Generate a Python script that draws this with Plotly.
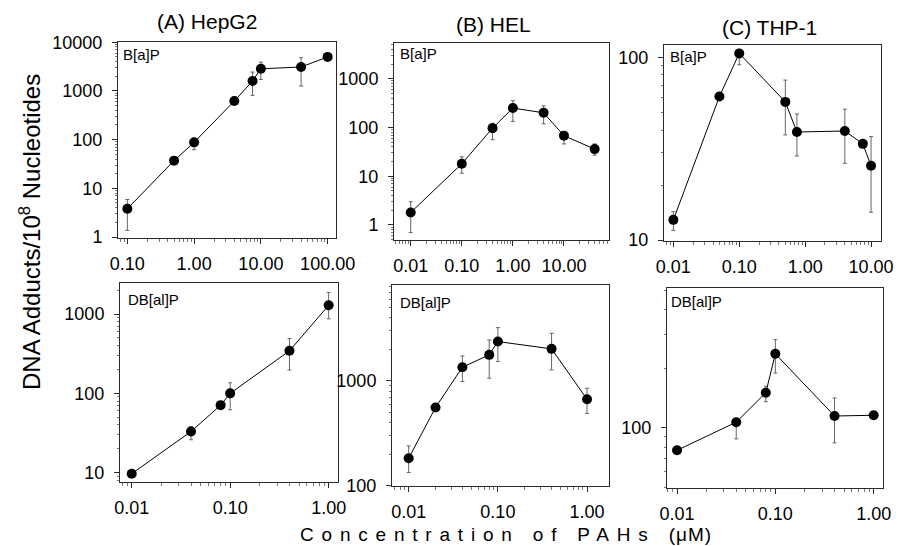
import plotly.graph_objects as go

# ---------------- data (concentration in uM, adducts / 10^8 nucleotides) ----------------
# (A) HepG2
hepg2_bap_conc = [0.1, 0.5, 1, 4, 7.5, 10, 40, 100]
hepg2_bap_adducts = [3.8, 37, 88, 620, 1600, 2850, 3100, 5000]
hepg2_bap_upper = [5.9, 37, 100, 620, 2440, 3900, 4800, 5000]
hepg2_bap_lower = [1.37, 37, 62, 620, 810, 1720, 1260, 5000]

hepg2_dbalp_conc = [0.01, 0.04, 0.08, 0.1, 0.4, 1.0]
hepg2_dbalp_adducts = [9.7, 33, 71, 100, 344, 1290]
hepg2_dbalp_upper = [9.7, 38, 71, 136, 490, 1875]
hepg2_dbalp_lower = [9.7, 26, 71, 62, 197, 870]

# (B) HEL
hel_bap_conc = [0.01, 0.1, 0.4, 1, 4, 10, 40]
hel_bap_adducts = [1.8, 18, 97, 250, 200, 68, 36]
hel_bap_upper = [3.0, 25, 122, 354, 278, 83, 46]
hel_bap_lower = [0.7, 11.5, 56, 133, 119, 46, 27]

hel_dbalp_conc = [0.01, 0.02, 0.04, 0.08, 0.1, 0.4, 1.0]
hel_dbalp_adducts = [183, 557, 1350, 1770, 2370, 2020, 668]
hel_dbalp_upper = [240, 557, 1730, 2455, 3220, 2845, 851]
hel_dbalp_lower = [134, 557, 986, 1060, 1528, 1273, 490]

# (C) THP-1
thp1_bap_conc = [0.01, 0.05, 0.1, 0.5, 0.75, 4, 7.5, 10]
thp1_bap_adducts = [12.9, 61, 105, 57, 39, 39.5, 33.6, 25.5]
thp1_bap_upper = [14.3, 61, 108, 75, 49, 52, 33.6, 36.8]
thp1_bap_lower = [11.3, 61, 91, 37.6, 28.8, 26.3, 33.6, 14.2]

thp1_dbalp_conc = [0.01, 0.04, 0.08, 0.1, 0.4, 1.0]
thp1_dbalp_adducts = [77, 107, 151, 238, 115, 116]
thp1_dbalp_upper = [77, 110, 163, 281, 142, 116]
thp1_dbalp_lower = [77, 88, 136, 190, 84, 116]

# tick labels
ticks_x_hepg2_bap = ["0.10", "1.00", "10.00", "100.00"]
ticks_x_bap_b = ["0.01", "0.10", "1.00", "10.00"]
ticks_x_dbalp = ["0.01", "0.10", "1.00"]
ticks_y_hepg2_bap = ["1", "10", "100", "1000", "10000"]
ticks_y_hel_bap = ["1", "10", "100", "1000"]
ticks_y_thp1_bap = ["10", "100"]
ticks_y_hepg2_dbalp = ["10", "100", "1000"]
ticks_y_hel_dbalp = ["100", "1000"]
ticks_y_thp1_dbalp = ["100"]

panel_titles = ["(A) HepG2", "(B) HEL", "(C) THP-1"]
row_labels = ["B[a]P", "DB[al]P"]

# ---------------- layout helpers ----------------
W, H = 900, 546
FONT = "Liberation Sans, Arial, sans-serif"


def dx(px):
    return px / W


def dy(py):
    return 1 - py / H


def minor_vals(rng):
    lo, hi = int(rng[0]) - 2, int(rng[1]) + 2
    return [k * 10.0 ** d for d in range(lo, hi) for k in range(2, 10)]


panels = [
    # (conc, adducts, upper, lower, box(l,r,t,b), xrange, yrange, xticktext, yticktext)
    (hepg2_bap_conc, hepg2_bap_adducts, hepg2_bap_upper, hepg2_bap_lower,
     (118, 336, 42, 238), [-1.14, 2.125], [-0.02, 4.005], ticks_x_hepg2_bap, ticks_y_hepg2_bap),
    (hel_bap_conc, hel_bap_adducts, hel_bap_upper, hel_bap_lower,
     (394, 609, 43, 240), [-2.327, 1.882], [-0.308, 3.733], ticks_x_bap_b, ticks_y_hel_bap),
    (thp1_bap_conc, thp1_bap_adducts, thp1_bap_upper, thp1_bap_lower,
     (664, 881, 45, 241), [-2.142, 1.151], [0.995, 2.067], ticks_x_bap_b, ticks_y_thp1_bap),
    (hepg2_dbalp_conc, hepg2_dbalp_adducts, hepg2_dbalp_upper, hepg2_dbalp_lower,
     (120, 338, 283, 482), [-2.119, 0.095], [0.882, 3.392], ticks_x_dbalp, ticks_y_hepg2_dbalp),
    (hel_dbalp_conc, hel_dbalp_adducts, hel_dbalp_upper, hel_dbalp_lower,
     (392, 609, 285, 486), [-2.187, 0.246], [1.998, 3.914], ticks_x_dbalp, ticks_y_hel_dbalp),
    (thp1_dbalp_conc, thp1_dbalp_adducts, thp1_dbalp_upper, thp1_dbalp_lower,
     (667, 883, 288, 488), [-2.102, 0.095], [1.695, 2.711], ticks_x_dbalp, ticks_y_thp1_dbalp),
]

fig = go.Figure()
layout = dict(
    width=W, height=H,
    margin=dict(l=0, r=0, t=0, b=0, pad=0, autoexpand=False),
    paper_bgcolor="white", plot_bgcolor="white",
    showlegend=False,
    font=dict(family=FONT, color="black"),
)

axis_common = dict(
    type="log", showgrid=False, zeroline=False, automargin=False,
    showline=True, mirror=True, linecolor="#2a2a2a", linewidth=1,
    ticks="outside", ticklen=5, tickcolor="#2a2a2a", tickwidth=1,
    tickmode="array",
    tickfont=dict(family=FONT, size=18, color="black"),
)

for i, (xs, ys, up, lo, box, xr, yr, xt, yt) in enumerate(panels):
    n = i + 1
    xa = "x" if n == 1 else f"x{n}"
    ya = "y" if n == 1 else f"y{n}"
    l, r, t, b = box
    xvals = [float(v) for v in xt]
    yvals = [float(v) for v in yt]
    layout["xaxis" if n == 1 else f"xaxis{n}"] = dict(
        axis_common, domain=[dx(l), dx(r)], range=xr, anchor=ya,
        tickvals=xvals, ticktext=xt, ticklabelstandoff=4,
        minor=dict(tickmode="array", tickvals=minor_vals(xr), ticks="outside",
                   ticklen=2.5, tickcolor="#777", tickwidth=1, showgrid=False))
    layout["yaxis" if n == 1 else f"yaxis{n}"] = dict(
        axis_common, domain=[dy(b), dy(t)], range=yr, anchor=xa,
        tickvals=yvals, ticktext=yt, ticklabelstandoff=6,
        minor=dict(tickmode="array", tickvals=minor_vals(yr), ticks="outside",
                   ticklen=2.5, tickcolor="#777", tickwidth=1, showgrid=False))
    fig.add_trace(go.Scatter(
        x=xs, y=ys, xaxis=xa, yaxis=ya,
        mode="lines+markers",
        line=dict(color="black", width=1),
        marker=dict(color="black", size=10, symbol="circle"),
        error_y=dict(type="data", symmetric=False,
                     array=[u - v for u, v in zip(up, ys)],
                     arrayminus=[v - w for v, w in zip(ys, lo)],
                     color="#666", thickness=1, width=2),
        cliponaxis=False,
    ))

annotations = []
# column titles
for txt, (cx, cy) in zip(panel_titles, [(207, 22), (493, 25), (769, 27)]):
    annotations.append(dict(text=txt, x=dx(cx), y=dy(cy), xref="paper", yref="paper",
                            xanchor="center", yanchor="middle", showarrow=False,
                            font=dict(family=FONT, size=21, color="black")))
# in-panel compound labels
for txt, (lx, ly) in [(row_labels[0], (121, 55)), (row_labels[0], (398, 54)), (row_labels[0], (668, 57)),
                      (row_labels[1], (126, 299)), (row_labels[1], (398, 302)), (row_labels[1], (669, 301))]:
    annotations.append(dict(text=txt, x=dx(lx), y=dy(ly), xref="paper", yref="paper",
                            xanchor="left", yanchor="middle", showarrow=False,
                            font=dict(family=FONT, size=15, color="black")))
# axis titles
annotations.append(dict(text="DNA Adducts/10<sup>8</sup> Nucleotides", x=dx(30), y=dy(232),
                        xref="paper", yref="paper", xanchor="center", yanchor="middle",
                        textangle=-90, showarrow=False,
                        font=dict(family=FONT, size=24, color="black")))
annotations.append(dict(
    text='<span style="letter-spacing:7.8px">Concentration of PAHs </span>'
         '<span style="letter-spacing:1px">(μM)</span>',
    x=dx(506), y=dy(534), xref="paper", yref="paper", xanchor="center", yanchor="middle",
    showarrow=False, font=dict(family=FONT, size=19, color="black")))

layout["annotations"] = annotations
fig.update_layout(**layout)
fig.write_html(
    "out.html",
    config={"displayModeBar": False, "staticPlot": True},
    post_script="document.body.style.margin='0';document.body.style.overflow='hidden';",
)
